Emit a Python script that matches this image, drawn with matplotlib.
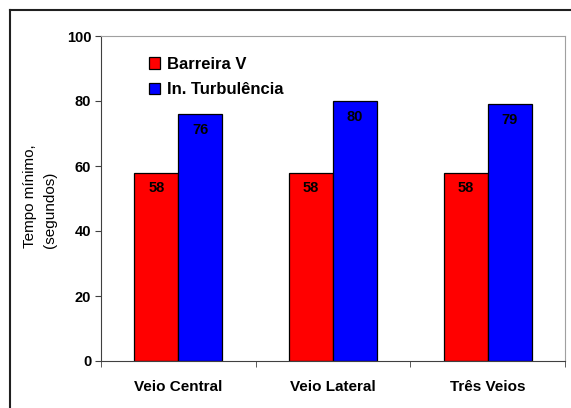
import numpy as np
import matplotlib.pyplot as plt
from matplotlib.lines import Line2D

plt.rcParams['font.family'] = ['Liberation Sans', 'DejaVu Sans']

categorias = ['Veio Central', 'Veio Lateral', 'Três Veios']
barreira_v = [58, 58, 58]
turbulencia = [76, 80, 79]
series = ['Barreira V', 'In. Turbulência']

W, H = 571, 408
fig = plt.figure(figsize=(W / 100, H / 100), dpi=100)
ax = fig.add_axes([101 / W, 1 - 361 / H, 464 / W, 325 / H])

x = np.arange(len(categorias))
w = 0.285
b1 = ax.bar(x - w / 2, barreira_v, w, color='#ff0000', edgecolor='black', linewidth=0.9, label=series[0])
b2 = ax.bar(x + w / 2, turbulencia, w, color='#0000ff', edgecolor='black', linewidth=0.9, label=series[1])

for bars, vals in ((b1, barreira_v), (b2, turbulencia)):
    for r, v in zip(bars, vals):
        ax.annotate(str(v), (r.get_x() + r.get_width() / 2, v), xytext=(0, -16),
                    textcoords='offset pixels', ha='center', va='center',
                    fontsize=10.5, fontweight='bold')

ax.set_xlim(-0.5, 2.5)
ax.set_ylim(0, 100)
ax.set_yticks([0, 20, 40, 60, 80, 100])
ax.set_xticks(x)
ax.set_xticklabels(categorias, fontsize=11, fontweight='bold')
ax.tick_params(axis='x', length=0, pad=14)
ax.set_xticks([-0.5, 0.5, 1.5, 2.5], minor=True)
ax.tick_params(axis='x', which='minor', length=4, direction='out', color='#404040')
ax.tick_params(axis='y', length=4, direction='out', color='#404040', labelsize=10.5, pad=3)
for lab in ax.get_yticklabels():
    lab.set_fontweight('bold')

for s in ('top', 'right'):
    ax.spines[s].set_color('#a0a0a0')
for s in ('left', 'bottom'):
    ax.spines[s].set_color('#404040')

fig.text(40 / W, 1 - 248 / H, 'Tempo mínimo,\n(segundos)', rotation=90, fontsize=11,
         ha='center', va='bottom', multialignment='left', linespacing=1.5)

ax.legend(loc='upper left', bbox_to_anchor=(0.072, 0.982), frameon=False,
          prop={'weight': 'bold', 'size': 12}, handlelength=0.65, handleheight=0.65,
          handletextpad=0.4, labelspacing=0.62)

# moldura externa (apenas esquerda e topo visíveis)
fig.add_artist(Line2D([9.5 / W, 9.5 / W], [0, 1 - 10 / H], color='#202020', linewidth=1.5, transform=fig.transFigure))
fig.add_artist(Line2D([9.5 / W, 1], [1 - 10 / H, 1 - 10 / H], color='#202020', linewidth=1.5, transform=fig.transFigure))

fig.savefig('out.png', dpi=100)
